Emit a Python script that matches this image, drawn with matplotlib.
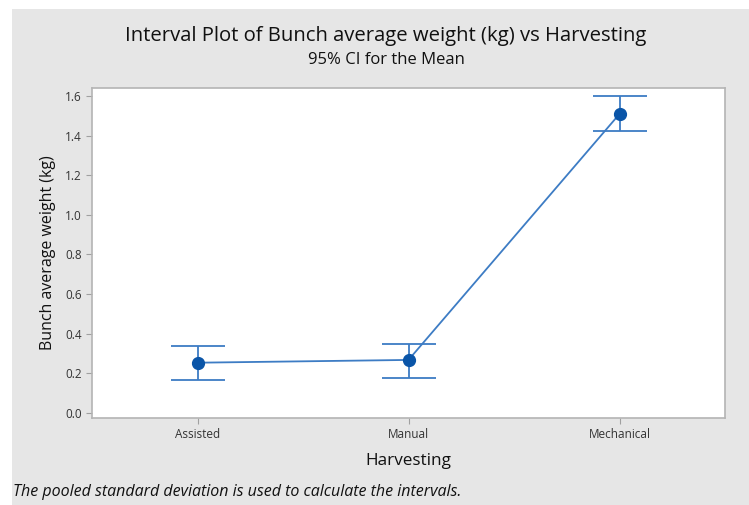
import matplotlib.pyplot as plt
from matplotlib.patches import Rectangle

# data
categories = ['Assisted', 'Manual', 'Mechanical']
means = [0.254, 0.268, 1.509]
ci_lower = [0.167, 0.177, 1.421]
ci_upper = [0.338, 0.348, 1.598]
yticks = [0.0, 0.2, 0.4, 0.6, 0.8, 1.0, 1.2, 1.4, 1.6]

plt.rcParams['font.family'] = ['Open Sans', 'DejaVu Sans']

W, H = 749, 505
fig = plt.figure(figsize=(W / 100, H / 100), dpi=100, facecolor='#e6e6e6')

# white strips at top/left like the screenshot
fig.patches.append(Rectangle((0, 1 - 9 / H), 1, 9 / H, transform=fig.transFigure,
                             facecolor='white', edgecolor='none', zorder=-5))
fig.patches.append(Rectangle((0, 0), 12 / W, 1, transform=fig.transFigure,
                             facecolor='white', edgecolor='none', zorder=-5))

ax = fig.add_axes([92 / W, 1 - 418 / H, (725 - 92) / W, (418 - 88) / H])
ax.set_facecolor('white')

x = list(range(len(categories)))
err_low = [m - l for m, l in zip(means, ci_lower)]
err_high = [u - m for m, u in zip(means, ci_upper)]

line_col = '#3d7cc4'
ax.errorbar(x, means, yerr=[err_low, err_high], fmt='none', ecolor=line_col,
            elinewidth=1.3, capsize=19.5, capthick=1.3, zorder=2)
ax.plot(x, means, color=line_col, linewidth=1.3, zorder=3)
ax.plot(x, means, 'o', color='#0a55a8', markersize=8.5, zorder=4)

ax.set_xlim(-0.5, 2.5)
ax.set_ylim(-0.025, 1.64)
ax.set_xticks(x)
ax.set_xticklabels(categories)
ax.set_yticks(yticks)
ax.set_yticklabels([f'{v:.1f}' for v in yticks])
ax.tick_params(axis='both', labelsize=8.5, color='#a0a0a0', length=4,
               labelcolor='#333333')

for s in ax.spines.values():
    s.set_color('#b4b4b4')
    s.set_linewidth(1.2)

ax.set_ylabel('Bunch average weight (kg)', fontsize=11.5, color='#111111',
              va='center')
ax.yaxis.set_label_coords(-(92 - 48) / (725 - 92), 0.5)
fig.text(408 / W, 1 - 461 / H, 'Harvesting', ha='center', va='center',
         fontsize=12.3, color='#111111')

fig.text(386 / W, 1 - 36 / H,
         'Interval Plot of Bunch average weight (kg) vs Harvesting',
         ha='center', va='center', fontsize=14.6, color='#111111')
fig.text(386 / W, 1 - 60 / H, '95% CI for the Mean', ha='center',
         va='center', fontsize=12, color='#111111')

fig.text(13 / W, 1 - 492 / H,
         'The pooled standard deviation is used to calculate the intervals.',
         ha='left', va='center', fontsize=11.5, style='italic', color='#111111')

fig.savefig('out.png', dpi=100, facecolor=fig.get_facecolor())
